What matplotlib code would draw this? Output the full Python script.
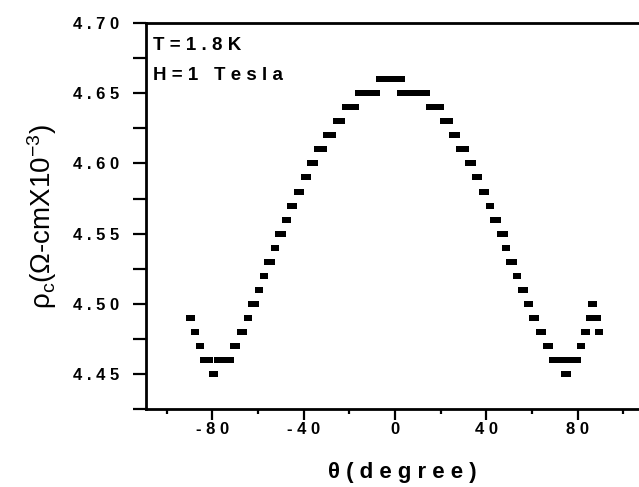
import matplotlib
matplotlib.use('Agg')
import matplotlib.pyplot as plt
from matplotlib.ticker import MultipleLocator, FuncFormatter

plt.rcParams['font.family'] = ['Liberation Sans', 'DejaVu Sans']
plt.rcParams['mathtext.fontset'] = 'custom'
plt.rcParams['mathtext.rm'] = 'Liberation Sans'
plt.rcParams['mathtext.it'] = 'Liberation Sans'

# angle (degree) and c-axis resistivity
theta = [-90, -89, -88, -87, -86, -85, -84, -83, -82, -81,
         -80, -79, -78, -77, -76, -75, -74, -73, -72, -71,
         -70, -69, -68, -67, -66, -65, -64, -63, -62, -61,
         -60, -59, -58, -57, -56, -55, -54, -53, -52, -51,
         -50, -49, -48, -47, -46, -45, -44, -43, -42, -41,
         -40, -39, -38, -37, -36, -35, -34, -33, -32, -31,
         -30, -29, -28, -27, -26, -25, -24, -23, -22, -21,
         -20, -19, -18, -17, -16, -15, -14, -13, -12, -11,
         -10, -9, -8, -7, -6, -5, -4, -3, -2, -1,
         0, 1, 2, 3, 2, 3, 4, 5, 6, 7,
         8, 9, 10, 11, 12, 13, 14, 15, 16, 17,
         18, 19, 20, 21, 22, 23, 24, 25, 26, 27,
         28, 29, 30, 31, 32, 33, 34, 35, 36, 37,
         38, 39, 40, 41, 42, 43, 44, 45, 46, 47,
         48, 48, 49, 50, 51, 52, 53, 54, 55, 56,
         57, 58, 59, 60, 61, 62, 63, 64, 65, 66,
         67, 68, 69, 70, 71, 72, 73, 74, 75, 76,
         74, 75, 76, 77, 78, 79, 80, 81, 82, 83,
         84, 85, 86, 87, 88, 89, 86, 87, 89, 90]
rho = [4.49, 4.49, 4.48, 4.48, 4.47, 4.47, 4.46, 4.46, 4.46, 4.46,
       4.45, 4.45, 4.46, 4.46, 4.46, 4.46, 4.46, 4.46, 4.46, 4.47,
       4.47, 4.47, 4.48, 4.48, 4.48, 4.49, 4.49, 4.50, 4.50, 4.50,
       4.51, 4.51, 4.52, 4.52, 4.53, 4.53, 4.53, 4.54, 4.54, 4.55,
       4.55, 4.55, 4.56, 4.56, 4.57, 4.57, 4.57, 4.58, 4.58, 4.58,
       4.59, 4.59, 4.59, 4.60, 4.60, 4.60, 4.61, 4.61, 4.61, 4.61,
       4.62, 4.62, 4.62, 4.62, 4.63, 4.63, 4.63, 4.63, 4.64, 4.64,
       4.64, 4.64, 4.64, 4.64, 4.65, 4.65, 4.65, 4.65, 4.65, 4.65,
       4.65, 4.65, 4.65, 4.66, 4.66, 4.66, 4.66, 4.66, 4.66, 4.66,
       4.66, 4.66, 4.66, 4.66, 4.65, 4.65, 4.65, 4.65, 4.65, 4.65,
       4.65, 4.65, 4.65, 4.65, 4.65, 4.65, 4.65, 4.64, 4.64, 4.64,
       4.64, 4.64, 4.64, 4.63, 4.63, 4.63, 4.63, 4.62, 4.62, 4.62,
       4.61, 4.61, 4.61, 4.61, 4.60, 4.60, 4.60, 4.59, 4.59, 4.59,
       4.58, 4.58, 4.58, 4.57, 4.57, 4.56, 4.56, 4.56, 4.55, 4.55,
       4.55, 4.54, 4.54, 4.53, 4.53, 4.53, 4.52, 4.52, 4.51, 4.51,
       4.51, 4.50, 4.50, 4.49, 4.49, 4.49, 4.48, 4.48, 4.48, 4.47,
       4.47, 4.47, 4.46, 4.46, 4.46, 4.46, 4.46, 4.46, 4.46, 4.46,
       4.45, 4.45, 4.45, 4.46, 4.46, 4.46, 4.46, 4.47, 4.47, 4.48,
       4.48, 4.49, 4.49, 4.49, 4.49, 4.49, 4.50, 4.50, 4.48, 4.48]


def spaced(s):
    # Origin style letter spacing
    return ' '.join(s)


fig = plt.figure(figsize=(6.39, 4.87), dpi=100)
ax = fig.add_axes([0.2286, 0.160, 0.7789, 0.7926])

ax.plot(theta, rho, 's', color='black', markersize=4.3, markeredgewidth=0)

ax.set_xlim(-109, 109)
ax.set_ylim(4.425, 4.70)

ax.xaxis.set_major_locator(MultipleLocator(40))
ax.xaxis.set_minor_locator(MultipleLocator(20))
ax.yaxis.set_major_locator(MultipleLocator(0.05))
ax.yaxis.set_minor_locator(MultipleLocator(0.025))
ax.xaxis.set_major_formatter(FuncFormatter(lambda v, p: spaced(str(int(round(v))))))
ax.yaxis.set_major_formatter(FuncFormatter(lambda v, p: spaced(f'{v:.2f}')))

ax.tick_params(which='both', direction='out', top=False, right=False, width=1.6)
ax.tick_params(axis='x', which='major', length=7.7, pad=1.5)
ax.tick_params(axis='x', which='minor', length=3.6)
ax.tick_params(axis='y', which='both', length=9.5, pad=10)
for lab in ax.get_xticklabels() + ax.get_yticklabels():
    lab.set_fontsize(12)
    lab.set_fontweight('bold')

for side in ['left', 'bottom', 'top', 'right']:
    ax.spines[side].set_linewidth(2)

ax.set_xlabel(spaced('θ(degree)'), fontsize=16, fontweight='bold')
ax.xaxis.set_label_coords(0.514, -0.138)
ax.set_ylabel('ρ$_c$(Ω-cmX10$^{-3}$)', fontsize=20)
ax.yaxis.set_label_coords(-0.175, 0.5)

ax.text(0.014, 0.930, 'T = 1 . 8 K', transform=ax.transAxes,
        fontsize=13.5, fontweight='bold', va='baseline')
ax.text(0.014, 0.852, 'H = 1   T e s l a', transform=ax.transAxes,
        fontsize=13.5, fontweight='bold', va='baseline')

fig.savefig('out.png', dpi=100, facecolor='white')
